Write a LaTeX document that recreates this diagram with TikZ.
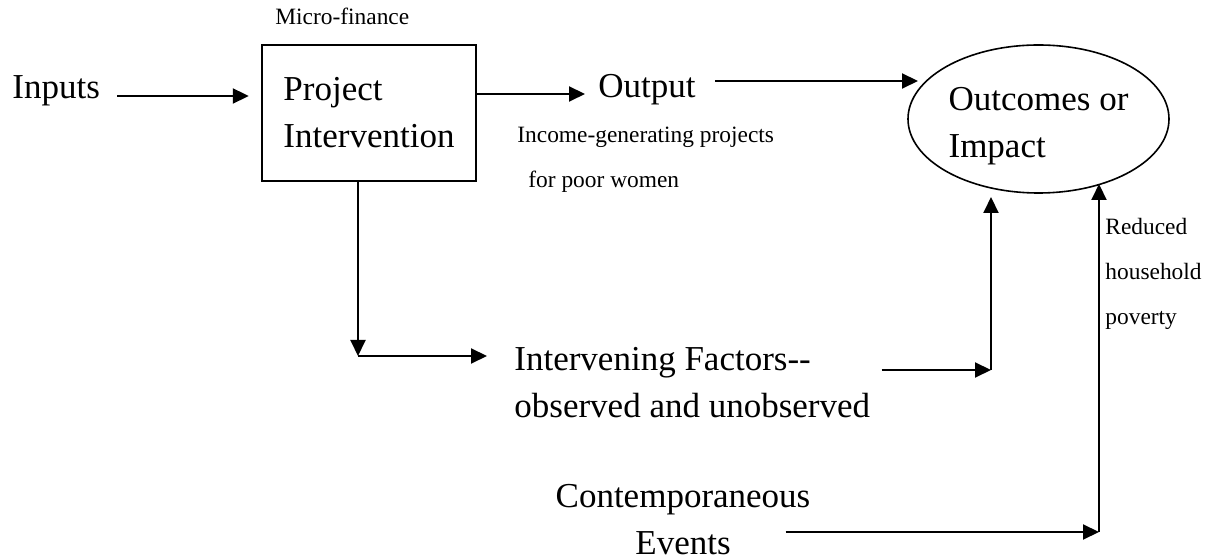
\documentclass[tikz,border=0pt]{standalone}
\usepackage{fontspec}
\setmainfont{Liberation Serif}
\usepackage{tikz}
\usetikzlibrary{arrows.meta,shapes.geometric}

\begin{document}
\begin{tikzpicture}[x=0.5pt,y=-0.5pt,
    big/.style={inner sep=0pt,font=\fontsize{17.5}{23.5}\selectfont},
    small/.style={inner sep=0pt,font=\fontsize{11.7}{22.5}\selectfont},
    arr/.style={line width=1pt,-{Triangle[length=8pt,width=7.5pt]}}]
    \useasboundingbox (0,0) rectangle (1210,560);
    \node[big,anchor=base west] (inputs) at (12,99) {Inputs};
    \node[big,draw,line width=1.2pt,align=left,minimum width=107pt,minimum height=68pt] (project) at (369,113) {Project\\Intervention};
    \node[small,anchor=base west] (micro) at (275,25) {Micro-finance};
    \node[big,anchor=base west] (output) at (598,98) {Output};
    \node[small,anchor=base west,align=left] (income) at (517,188) {Income-generating projects\\\hspace*{5.5pt}for poor women};
    \node[big,draw,ellipse,line width=0.8pt,align=left,minimum width=130.5pt,minimum height=74pt] (outcome) at (1038.5,119) {\rule{0pt}{19pt}Outcomes or\\Impact};
    \node[big,anchor=base west,align=left] (factors) at (514,418) {Intervening Factors-{}-\\observed and unobserved};
    \node[big,anchor=base,align=center] (events) at (683,555) {Contemporaneous\\Events};
    \node[small,anchor=base west,align=left] (reduced) at (1105,325) {Reduced\\household\\poverty};

    \coordinate (lane) at (0,96);
    \coordinate (o-tip) at (918,81);
    \coordinate (turn) at (358,356);
    \coordinate (join) at (991,370);
    \coordinate (f-tip) at (991,197);
    \coordinate (corner) at (1099,532);
    \coordinate (e-tip) at (1099,184);

    \draw[arr,shorten <=8.5pt,shorten >=6pt] (inputs.east |- lane) -- (project.west |- lane);
    \draw[arr] ([yshift=9.5pt]project.east) -- ([yshift=9.5pt,xshift=-6.5pt]project.east -| output.west);
    \draw[arr] ([xshift=9.5pt]output.east |- o-tip) -- (o-tip);
    \draw[arr] (project.south -| turn) -- (turn);
    \draw[arr] (turn) -- ([xshift=-13.5pt]turn -| factors.west);
    \draw[arr] ([xshift=5.5pt]factors.east |- join) -- (join);
    \draw[arr] (join) -- (f-tip);
    \draw[arr] ([xshift=-12.5pt]events.east |- corner) -- (corner);
    \draw[arr] (corner) -- (e-tip);
\end{tikzpicture}
\end{document}
